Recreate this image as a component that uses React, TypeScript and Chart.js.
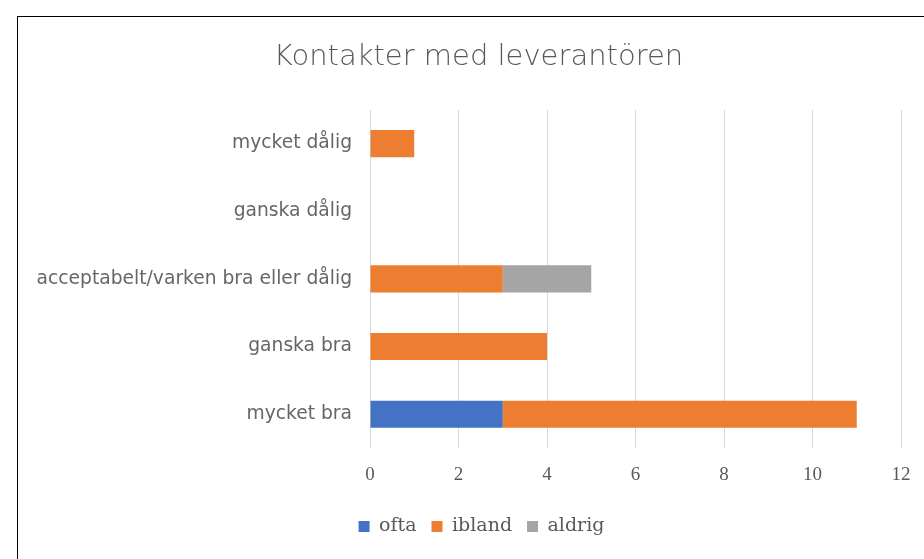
import React, { useEffect, useRef } from "react";
import { Chart, registerables } from "chart.js";

Chart.register(...registerables);

const title = "Kontakter med leverantören";
const categories = [
  "mycket dålig",
  "ganska dålig",
  "acceptabelt/varken bra eller dålig",
  "ganska bra",
  "mycket bra",
];
const seriesNames = ["ofta", "ibland", "aldrig"];
const ofta = [0, 0, 0, 0, 3];
const ibland = [1, 0, 3, 4, 8];
const aldrig = [0, 0, 2, 0, 0];
const colors = ["#4472C4", "#ED7D31", "#A5A5A5"];
const xMin = 0;
const xMax = 12;
const xStep = 2;

const TEXT = "#595959";
const SANS = "DejaVu Sans";
const SERIF = "DejaVu Serif";

// the original chart is wider than the visible crop: title and legend are centred on the full width
const TITLE_SHIFT = 19;
const LEGEND_SHIFT = 22;

const centerShift = {
  id: "centerShift",
  afterLayout(chart: any) {
    const t = chart.titleBlock;
    if (t) {
      t.left += TITLE_SHIFT;
      t.right += TITLE_SHIFT;
    }
    const l = chart.legend;
    if (l) {
      l.left += LEGEND_SHIFT;
      l.right += LEGEND_SHIFT;
    }
  },
};

export default function App() {
  const ref = useRef<HTMLCanvasElement | null>(null);

  useEffect(() => {
    if (!ref.current) return;
    const values = [ofta, ibland, aldrig];
    const chart = new Chart(ref.current, {
      type: "bar",
      data: {
        labels: categories,
        datasets: seriesNames.map((name, i) => ({
          label: name,
          data: values[i],
          backgroundColor: colors[i],
          borderWidth: 0,
          categoryPercentage: 1,
          barPercentage: 0.4,
        })),
      },
      plugins: [centerShift],
      options: {
        indexAxis: "y",
        responsive: false,
        animation: false,
        devicePixelRatio: 1,
        layout: { padding: { left: 0, right: 39, top: 0, bottom: 31 } },
        plugins: {
          title: {
            display: true,
            text: title,
            color: TEXT,
            font: { family: SANS, size: 29, weight: "300" },
            padding: { top: 23, bottom: 35 },
          },
          legend: {
            position: "bottom",
            labels: {
              color: TEXT,
              font: { family: SERIF, size: 19 },
              boxWidth: 11,
              boxHeight: 11,
              padding: 15,
            },
          },
          tooltip: { enabled: false },
        },
        scales: {
          x: {
            stacked: true,
            min: xMin,
            max: xMax,
            ticks: {
              stepSize: xStep,
              color: TEXT,
              font: { family: "Liberation Serif", size: 19 },
              padding: 16,
            },
            grid: { color: "#D9D9D9", drawTicks: false },
            border: { display: false },
            afterFit: (s: any) => {
              s.height = 54;
            },
          },
          y: {
            stacked: true,
            ticks: {
              color: "#666666",
              font: { family: SANS, size: 18.7 },
              padding: 18,
            },
            grid: { display: false, drawTicks: false },
            border: { display: false },
            afterFit: (s: any) => {
              s.width = 352;
            },
          },
        },
      },
    });
    return () => chart.destroy();
  }, []);

  return (
    <div
      style={{
        position: "absolute",
        left: 17,
        top: 16,
        width: 907,
        height: 543,
        boxSizing: "border-box",
        borderLeft: "1px solid #000",
        borderTop: "1px solid #000",
        overflow: "hidden",
        background: "#fff",
      }}
    >
      <canvas ref={ref} width={922} height={560} style={{ display: "block" }} />
    </div>
  );
}
